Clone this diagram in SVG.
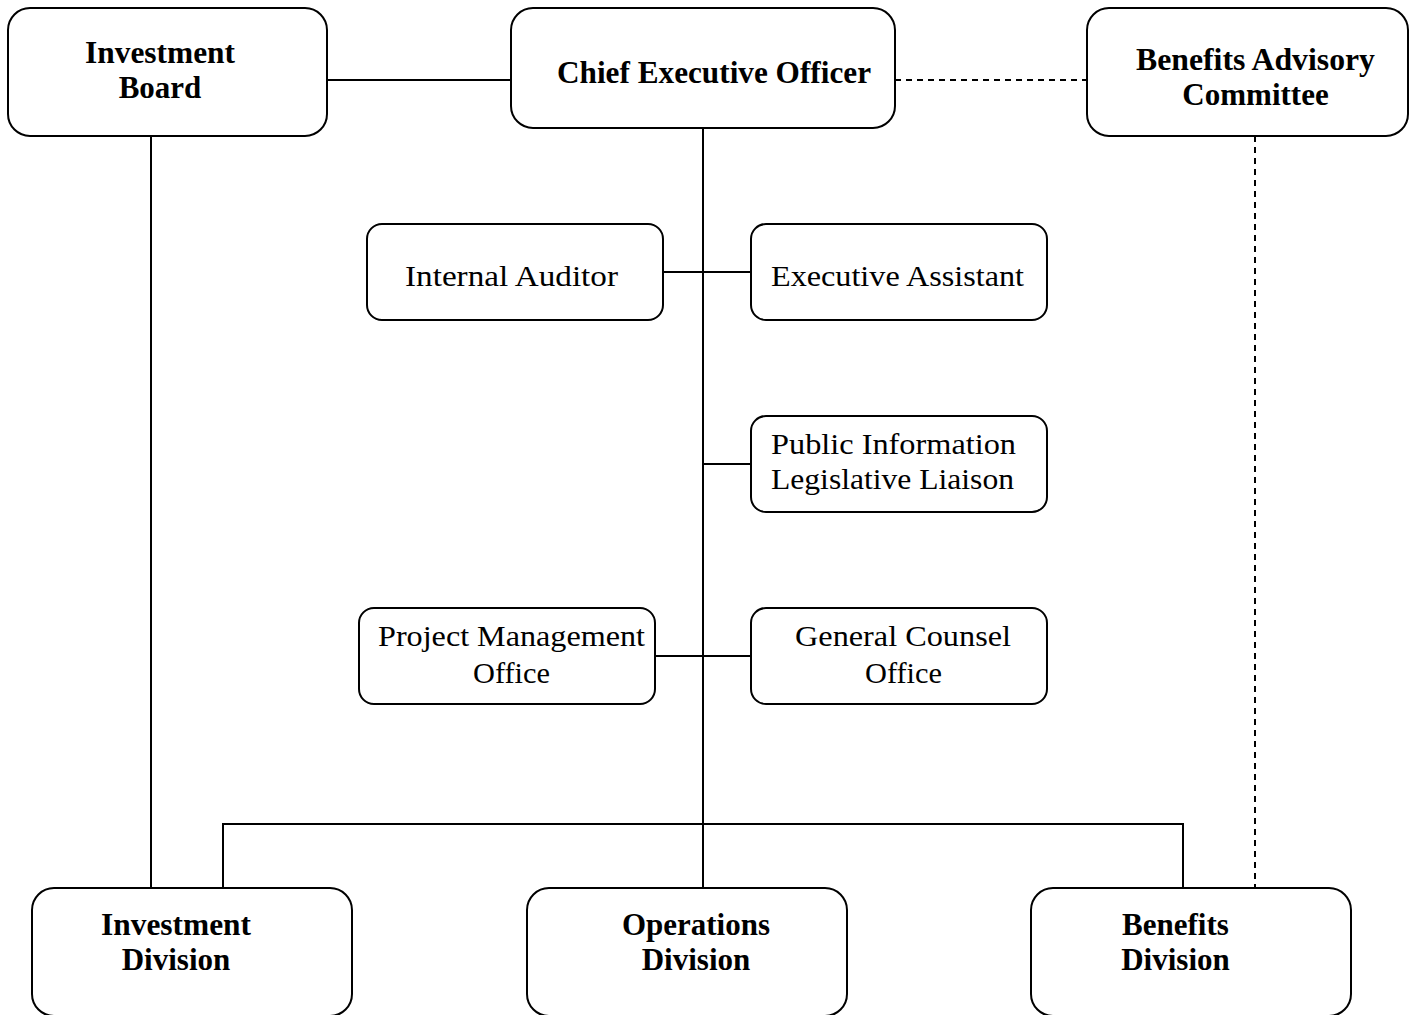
<svg xmlns="http://www.w3.org/2000/svg" width="1411" height="1015" viewBox="0 0 1411 1015">
  <style>
    .box { fill: #ffffff; stroke: #000000; stroke-width: 2; }
    .link { fill: none; stroke: #000000; stroke-width: 2; }
    .dash { stroke-dasharray: 6 5; }
    .bold { font-family: "Liberation Serif", "Times New Roman", serif; font-weight: bold; font-size: 31px; fill: #000000; }
    .reg { font-family: "Liberation Serif", "Times New Roman", serif; font-size: 30px; fill: #000000; }
    .c { text-anchor: middle; }
  </style>
  <rect width="1411" height="1015" fill="#ffffff"/>

  <!-- connectors -->
  <g id="connectors">
    <line class="link" x1="327" y1="80" x2="511" y2="80"/>
    <line class="link dash" x1="895" y1="80" x2="1087" y2="80"/>
    <line class="link" x1="151" y1="136" x2="151" y2="888"/>
    <line class="link" x1="703" y1="128" x2="703" y2="888"/>
    <line class="link dash" x1="1255" y1="136" x2="1255" y2="888"/>
    <line class="link" x1="663" y1="272" x2="751" y2="272"/>
    <line class="link" x1="703" y1="464" x2="751" y2="464"/>
    <line class="link" x1="655" y1="656" x2="751" y2="656"/>
    <polyline class="link" points="223,888 223,824 1183,824 1183,888"/>
  </g>

  <!-- top row -->
  <g id="investment-board">
    <rect class="box" x="8" y="8" width="319" height="128" rx="22"/>
    <text class="bold c" x="160" y="63" textLength="150" lengthAdjust="spacingAndGlyphs">Investment</text>
    <text class="bold c" x="160" y="98">Board</text>
  </g>
  <g id="ceo">
    <rect class="box" x="511" y="8" width="384" height="120" rx="22"/>
    <text class="bold c" x="714" y="83" textLength="314" lengthAdjust="spacingAndGlyphs">Chief Executive Officer</text>
  </g>
  <g id="benefits-advisory-committee">
    <rect class="box" x="1087" y="8" width="321" height="128" rx="22"/>
    <text class="bold c" x="1255.5" y="70" textLength="239" lengthAdjust="spacingAndGlyphs">Benefits Advisory</text>
    <text class="bold c" x="1255.5" y="105">Committee</text>
  </g>

  <!-- staff offices -->
  <g id="internal-auditor">
    <rect class="box" x="367" y="224" width="296" height="96" rx="15"/>
    <text class="reg c" x="511.5" y="286" textLength="213" lengthAdjust="spacingAndGlyphs">Internal Auditor</text>
  </g>
  <g id="executive-assistant">
    <rect class="box" x="751" y="224" width="296" height="96" rx="15"/>
    <text class="reg c" x="897.5" y="286" textLength="253" lengthAdjust="spacingAndGlyphs">Executive Assistant</text>
  </g>
  <g id="public-information">
    <rect class="box" x="751" y="416" width="296" height="96" rx="15"/>
    <text class="reg" x="771" y="454" textLength="245" lengthAdjust="spacingAndGlyphs">Public Information</text>
    <text class="reg" x="771" y="489" textLength="243" lengthAdjust="spacingAndGlyphs">Legislative Liaison</text>
  </g>
  <g id="project-management-office">
    <rect class="box" x="359" y="608" width="296" height="96" rx="15"/>
    <text class="reg c" x="511.5" y="646" textLength="267" lengthAdjust="spacingAndGlyphs">Project Management</text>
    <text class="reg c" x="511.5" y="683" textLength="77" lengthAdjust="spacingAndGlyphs">Office</text>
  </g>
  <g id="general-counsel-office">
    <rect class="box" x="751" y="608" width="296" height="96" rx="15"/>
    <text class="reg c" x="903" y="646" textLength="216" lengthAdjust="spacingAndGlyphs">General Counsel</text>
    <text class="reg c" x="903.5" y="683" textLength="77" lengthAdjust="spacingAndGlyphs">Office</text>
  </g>

  <!-- divisions -->
  <g id="investment-division">
    <rect class="box" x="32" y="888" width="320" height="128" rx="22"/>
    <text class="bold c" x="176" y="935" textLength="150" lengthAdjust="spacingAndGlyphs">Investment</text>
    <text class="bold c" x="176" y="970">Division</text>
  </g>
  <g id="operations-division">
    <rect class="box" x="527" y="888" width="320" height="128" rx="22"/>
    <text class="bold c" x="696" y="935" textLength="148" lengthAdjust="spacingAndGlyphs">Operations</text>
    <text class="bold c" x="696" y="970">Division</text>
  </g>
  <g id="benefits-division">
    <rect class="box" x="1031" y="888" width="320" height="128" rx="22"/>
    <text class="bold c" x="1175.5" y="935">Benefits</text>
    <text class="bold c" x="1175.5" y="970">Division</text>
  </g>
</svg>
